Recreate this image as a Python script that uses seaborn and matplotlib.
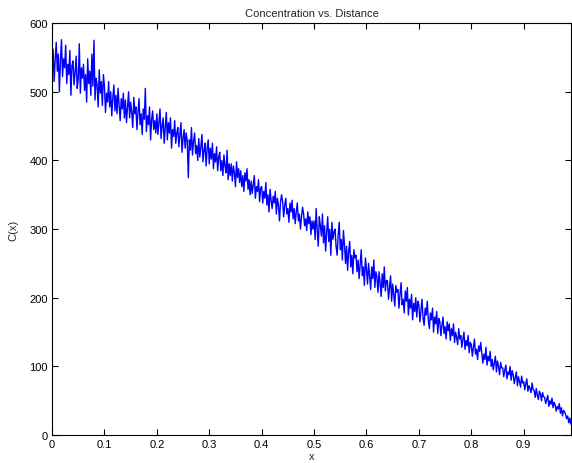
import numpy as np
import pandas as pd
import matplotlib
matplotlib.use("Agg")
import matplotlib.pyplot as plt
import seaborn as sns

conc = [
    540, 562, 515, 548, 572, 530, 555, 500, 545, 576,
    522, 548, 535, 568, 512, 540, 525, 560, 495, 538,
    545, 510, 528, 552, 505, 518, 570, 498, 535, 520,
    540, 502, 525, 485, 548, 512, 530, 495, 555, 508,
    575, 488, 520, 510, 478, 532, 498, 515, 480, 525,
    508, 470, 498, 485, 515, 478, 500, 465, 492, 510,
    472, 495, 468, 505, 480, 458, 490, 475, 498, 462,
    488, 455, 478, 500, 462, 485, 470, 448, 492, 468,
    478, 445, 470, 490, 452, 468, 438, 475, 460, 505,
    442, 465, 452, 478, 430, 460, 472, 445, 458, 440,
    468, 438, 455, 475, 432, 450, 462, 425, 448, 470,
    430, 455, 440, 462, 418, 445, 435, 458, 425, 440,
    448, 420, 438, 455, 412, 432, 445, 418, 440, 428,
    375, 430, 415, 448, 408, 428, 440, 410, 422, 400,
    432, 405, 420, 438, 398, 415, 425, 392, 418, 430,
    395, 418, 402, 425, 388, 410, 398, 420, 385, 405,
    412, 385, 400, 378, 408, 392, 382, 415, 372, 395,
    378, 395, 370, 392, 382, 362, 398, 375, 388, 368,
    385, 362, 378, 355, 382, 370, 388, 358, 372, 350,
    370, 352, 365, 378, 345, 362, 355, 372, 340, 360,
    362, 338, 355, 345, 368, 335, 350, 325, 358, 342,
    330, 348, 338, 355, 322, 345, 335, 312, 340, 350,
    340, 318, 335, 345, 322, 330, 310, 338, 325, 342,
    315, 330, 308, 325, 338, 312, 322, 300, 318, 332,
    322, 305, 315, 298, 325, 308, 318, 292, 312, 300,
    312, 285, 330, 298, 275, 318, 305, 290, 322, 280,
    305, 268, 295, 318, 282, 300, 262, 310, 285, 296,
    300, 275, 262, 292, 310, 270, 285, 255, 298, 278,
    250, 275, 240, 268, 282, 245, 262, 235, 270, 258,
    262, 238, 255, 228, 250, 270, 232, 245, 218, 258,
    242, 220, 250, 232, 212, 245, 228, 255, 215, 238,
    230, 208, 238, 222, 202, 235, 215, 245, 210, 225,
    225, 198, 215, 232, 195, 220, 205, 188, 218, 208,
    212, 185, 205, 222, 190, 198, 178, 210, 195, 215,
    175, 198, 185, 205, 168, 192, 180, 200, 172, 195,
    190, 165, 182, 198, 170, 160, 185, 175, 195, 168,
    155, 178, 168, 185, 150, 172, 162, 180, 148, 170,
    165, 145, 160, 172, 148, 158, 140, 165, 152, 162,
    138, 155, 145, 162, 135, 150, 142, 132, 155, 140,
    145, 128, 140, 150, 125, 138, 130, 145, 120, 135,
    132, 115, 128, 140, 118, 125, 110, 130, 122, 135,
    120, 105, 118, 110, 128, 102, 115, 108, 122, 100,
    110, 95, 105, 115, 92, 108, 100, 88, 106, 98,
    98, 85, 95, 102, 82, 92, 88, 100, 80, 94,
    88, 75, 84, 92, 72, 85, 78, 70, 86, 76,
    78, 66, 75, 82, 64, 72, 68, 62, 76, 66,
    65, 55, 68, 58, 52, 64, 60, 50, 62, 56,
    55, 46, 52, 58, 42, 50, 45, 54, 40, 48,
    44, 35, 42, 38, 46, 32, 40, 28, 36, 34,
    30, 24, 28, 18, 25, 16,
]
x_end = 0.99
x_ticks = [0, 0.1, 0.2, 0.3, 0.4, 0.5, 0.6, 0.7, 0.8, 0.9]
x_labels = ["0", "0.1", "0.2", "0.3", "0.4", "0.5", "0.6", "0.7", "0.8", "0.9"]
y_ticks = [0, 100, 200, 300, 400, 500, 600]

df = pd.DataFrame({"x": np.linspace(0, x_end, len(conc)), "C": conc})

sns.set_style("ticks")
plt.rcParams["font.family"] = ["Liberation Sans", "DejaVu Sans"]
plt.rcParams["font.size"] = 8

fig = plt.figure(figsize=(5.72, 4.64), dpi=100)
ax = fig.add_axes([0.091, 0.060, 0.907, 0.888])

sns.lineplot(data=df, x="x", y="C", color="blue", linewidth=1.0, ax=ax)

ax.set_xlim(0, 0.99)
ax.set_ylim(0, 600)
ax.set_xticks(x_ticks)
ax.set_xticklabels(x_labels)
ax.set_yticks(y_ticks)
ax.tick_params(direction="in", top=True, right=True, length=4, width=0.8, pad=3,
               labelsize=8, colors="black")
for s in ax.spines.values():
    s.set_linewidth(0.8)
    s.set_color("black")

ax.set_title("Concentration vs. Distance", fontsize=8, pad=5)
ax.set_xlabel("x", fontsize=8, labelpad=1)
ax.set_ylabel("C(x)", fontsize=8, labelpad=8)

fig.savefig("out.png", dpi=100)
